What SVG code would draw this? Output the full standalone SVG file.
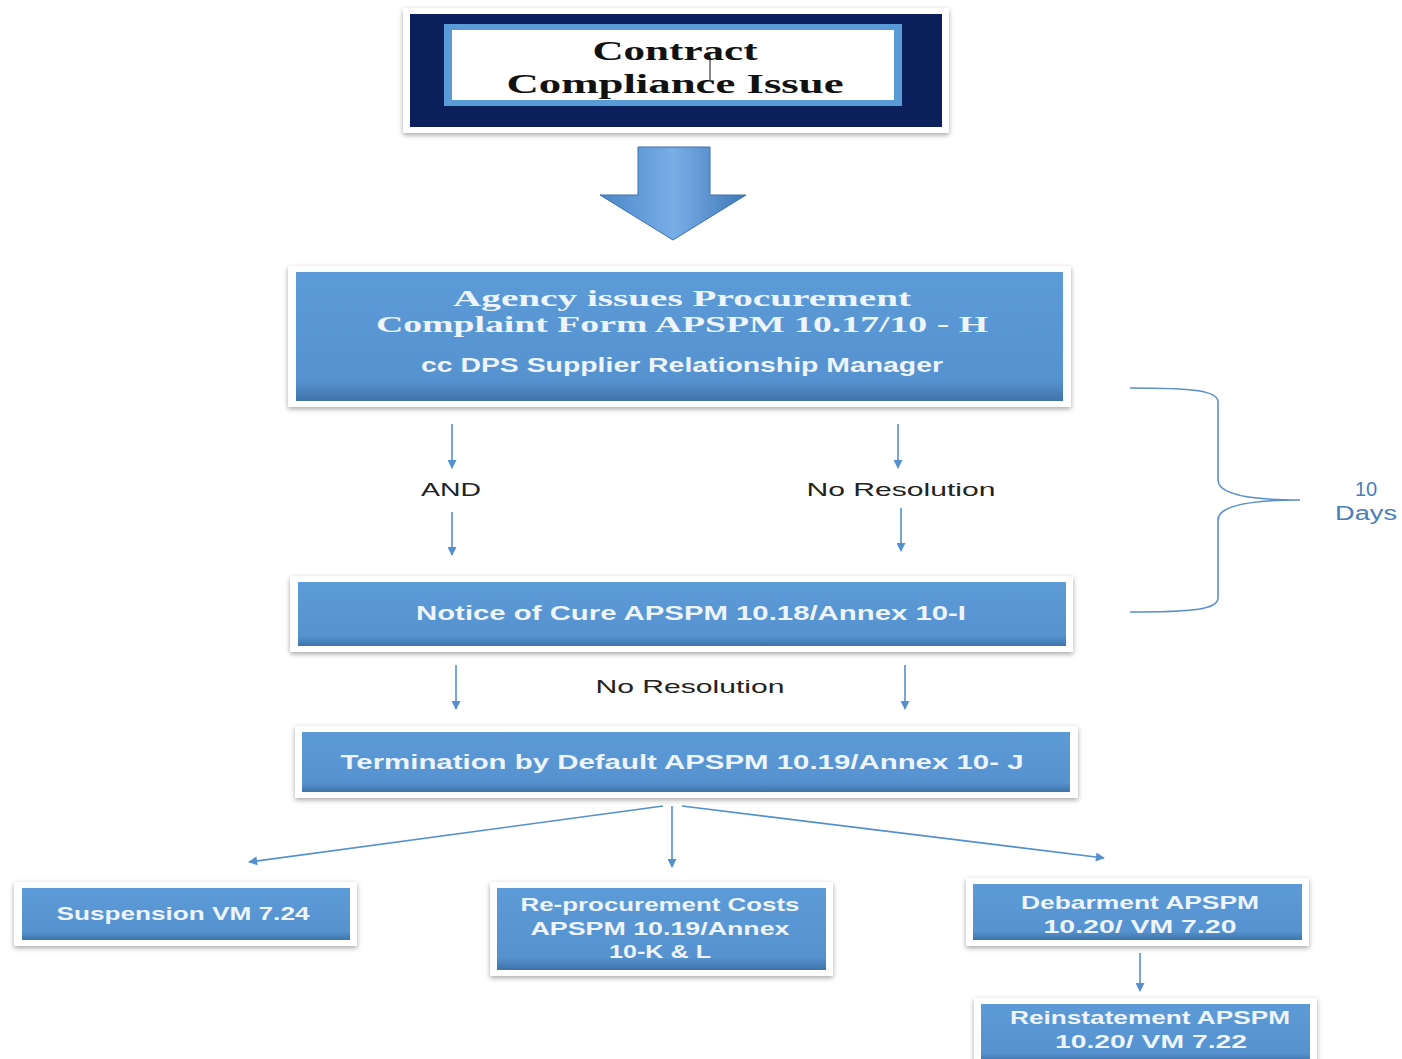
<svg xmlns="http://www.w3.org/2000/svg" width="1402" height="1059" viewBox="0 0 1402 1059">
<defs>
<filter id="sh" x="-10%" y="-20%" width="120%" height="150%">
<feDropShadow dx="0" dy="2" stdDeviation="2.5" flood-color="#000" flood-opacity="0.35"/>
</filter>
<linearGradient id="bg" x1="0" y1="0" x2="0" y2="1">
<stop offset="0" stop-color="#5d9bd8"/>
<stop offset="0.85" stop-color="#5592cf"/>
<stop offset="1" stop-color="#3f73a8"/>
</linearGradient>
<linearGradient id="ag" x1="0" y1="0" x2="1" y2="0">
<stop offset="0" stop-color="#4a86c8"/>
<stop offset="0.5" stop-color="#78aee6"/>
<stop offset="1" stop-color="#3f78b8"/>
</linearGradient>
<marker id="ah" viewBox="0 0 10 10" refX="9" refY="5" markerWidth="5" markerHeight="5" orient="auto" markerUnits="userSpaceOnUse">
<path d="M0,0 L10,5 L0,10 Z" fill="#5490cd"/>
</marker>
<marker id="ah2" viewBox="0 0 10 10" refX="9" refY="5" markerWidth="10" markerHeight="9" orient="auto" markerUnits="userSpaceOnUse">
<path d="M0,0 L10,5 L0,10 Z" fill="#5490cd"/>
</marker>
</defs>
<style>
.frame{fill:#fff;filter:url(#sh)}
.box{fill:url(#bg)}
.bt{font-family:"Liberation Sans",Arial,sans-serif;font-weight:bold;fill:#eef4fb;text-anchor:middle}
.st{font-family:"Liberation Serif","DejaVu Serif",serif;font-weight:bold;text-anchor:middle}
.lt{font-family:"Liberation Sans",Arial,sans-serif;fill:#222;text-anchor:middle}
.con{stroke:#5490cd;stroke-width:1.6;fill:none}
</style>
<rect width="1402" height="1059" fill="#fff"/>

<g id="n-contract">
<rect class="frame" x="403" y="8" width="546" height="125"/>
<rect x="410" y="14" width="532" height="113" fill="#0b1f5c"/>
<rect x="444" y="24" width="458" height="82" fill="#5a9ad6"/>
<rect x="452" y="30" width="442" height="70" fill="#fff"/>
<text class="st" x="675" y="60" font-size="27" fill="#111" textLength="165" lengthAdjust="spacingAndGlyphs">Contract</text>
<text class="st" x="675" y="93" font-size="27" fill="#111" textLength="337" lengthAdjust="spacingAndGlyphs">Compliance Issue</text>
<line x1="710" y1="56" x2="710" y2="80" stroke="#111" stroke-width="1"/>
</g>

<g id="big-arrow">
<path d="M638,147 L710,147 L710,195 L746,195 L673,240 L600,195 L638,195 Z" fill="url(#ag)" stroke="#3c70ad" stroke-width="1"/>
</g>

<g id="n-agency">
<rect class="frame" x="288" y="266" width="783" height="141"/>
<rect class="box" x="296" y="272" width="767" height="129"/>
<text class="st" x="682" y="306" font-size="23" fill="#eef4fb" textLength="458" lengthAdjust="spacingAndGlyphs">Agency issues Procurement</text>
<text class="st" x="682" y="332" font-size="23" fill="#eef4fb" textLength="612" lengthAdjust="spacingAndGlyphs">Complaint Form APSPM 10.17/10 - H</text>
<text class="bt" x="682" y="372" font-size="20" textLength="522" lengthAdjust="spacingAndGlyphs">cc DPS Supplier Relationship Manager</text>
</g>

<g id="n-cure">
<rect class="frame" x="290" y="576" width="783" height="76"/>
<rect class="box" x="298" y="582" width="768" height="64"/>
<text class="bt" x="691" y="620" font-size="21" textLength="550" lengthAdjust="spacingAndGlyphs">Notice of Cure APSPM 10.18/Annex 10-I</text>
</g>

<g id="n-termination">
<rect class="frame" x="295" y="726" width="783" height="72"/>
<rect class="box" x="302" y="732" width="768" height="60"/>
<text class="bt" x="682" y="769" font-size="21" textLength="683" lengthAdjust="spacingAndGlyphs">Termination by Default APSPM 10.19/Annex 10- J</text>
</g>

<g id="n-suspension">
<rect class="frame" x="14" y="882" width="343" height="64"/>
<rect class="box" x="22" y="888" width="328" height="52"/>
<text class="bt" x="183" y="920" font-size="19" textLength="253" lengthAdjust="spacingAndGlyphs">Suspension VM 7.24</text>
</g>

<g id="n-reprocurement">
<rect class="frame" x="490" y="882" width="343" height="94"/>
<rect class="box" x="497" y="888" width="329" height="82"/>
<text class="bt" x="660" y="911" font-size="19" textLength="279" lengthAdjust="spacingAndGlyphs">Re-procurement Costs</text>
<text class="bt" x="660" y="935" font-size="19" textLength="259" lengthAdjust="spacingAndGlyphs">APSPM 10.19/Annex</text>
<text class="bt" x="660" y="958" font-size="19" textLength="102" lengthAdjust="spacingAndGlyphs">10-K &amp; L</text>
</g>

<g id="n-debarment">
<rect class="frame" x="966" y="878" width="343" height="68"/>
<rect class="box" x="973" y="884" width="329" height="56"/>
<text class="bt" x="1140" y="909" font-size="19" textLength="238" lengthAdjust="spacingAndGlyphs">Debarment APSPM</text>
<text class="bt" x="1140" y="933" font-size="19" textLength="193" lengthAdjust="spacingAndGlyphs">10.20/ VM 7.20</text>
</g>

<g id="n-reinstatement">
<rect class="frame" x="974" y="998" width="343" height="66"/>
<rect class="box" x="981" y="1004" width="329" height="58"/>
<text class="bt" x="1150" y="1024" font-size="19" textLength="280" lengthAdjust="spacingAndGlyphs">Reinstatement APSPM</text>
<text class="bt" x="1151" y="1048" font-size="19" textLength="192" lengthAdjust="spacingAndGlyphs">10.20/ VM 7.22</text>
</g>

<g id="labels">
<text class="lt" x="451" y="496" font-size="19" textLength="60" lengthAdjust="spacingAndGlyphs">AND</text>
<text class="lt" x="901" y="496" font-size="19" textLength="189" lengthAdjust="spacingAndGlyphs">No Resolution</text>
<text class="lt" x="690" y="693" font-size="19" textLength="189" lengthAdjust="spacingAndGlyphs">No Resolution</text>
<text class="lt" x="1366" y="496" font-size="20" fill="#4a7ebb" style="fill:#4a7ebb">10</text>
<text class="lt" x="1366" y="520" font-size="20" style="fill:#4a7ebb" textLength="62" lengthAdjust="spacingAndGlyphs">Days</text>
</g>

<g id="connectors">
<line class="con" x1="452" y1="424" x2="452" y2="468" marker-end="url(#ah2)"/>
<line class="con" x1="452" y1="512" x2="452" y2="555" marker-end="url(#ah2)"/>
<line class="con" x1="898" y1="424" x2="898" y2="468" marker-end="url(#ah2)"/>
<line class="con" x1="901" y1="508" x2="901" y2="551" marker-end="url(#ah2)"/>
<line class="con" x1="456" y1="665" x2="456" y2="709" marker-end="url(#ah2)"/>
<line class="con" x1="905" y1="665" x2="905" y2="709" marker-end="url(#ah2)"/>
<line class="con" x1="663" y1="806" x2="249" y2="862" marker-end="url(#ah2)"/>
<line class="con" x1="672" y1="806" x2="672" y2="867" marker-end="url(#ah2)"/>
<line class="con" x1="682" y1="806" x2="1104" y2="858" marker-end="url(#ah2)"/>
<line class="con" x1="1140" y1="953" x2="1140" y2="991" marker-end="url(#ah2)"/>
<path class="con" d="M1130,388 C1190,388 1218,390 1218,402 L1218,480 C1218,494 1250,500 1300,500 C1250,500 1218,506 1218,520 L1218,598 C1218,610 1190,612 1130,612" style="stroke:#5b8fc9"/>
</g>
</svg>
